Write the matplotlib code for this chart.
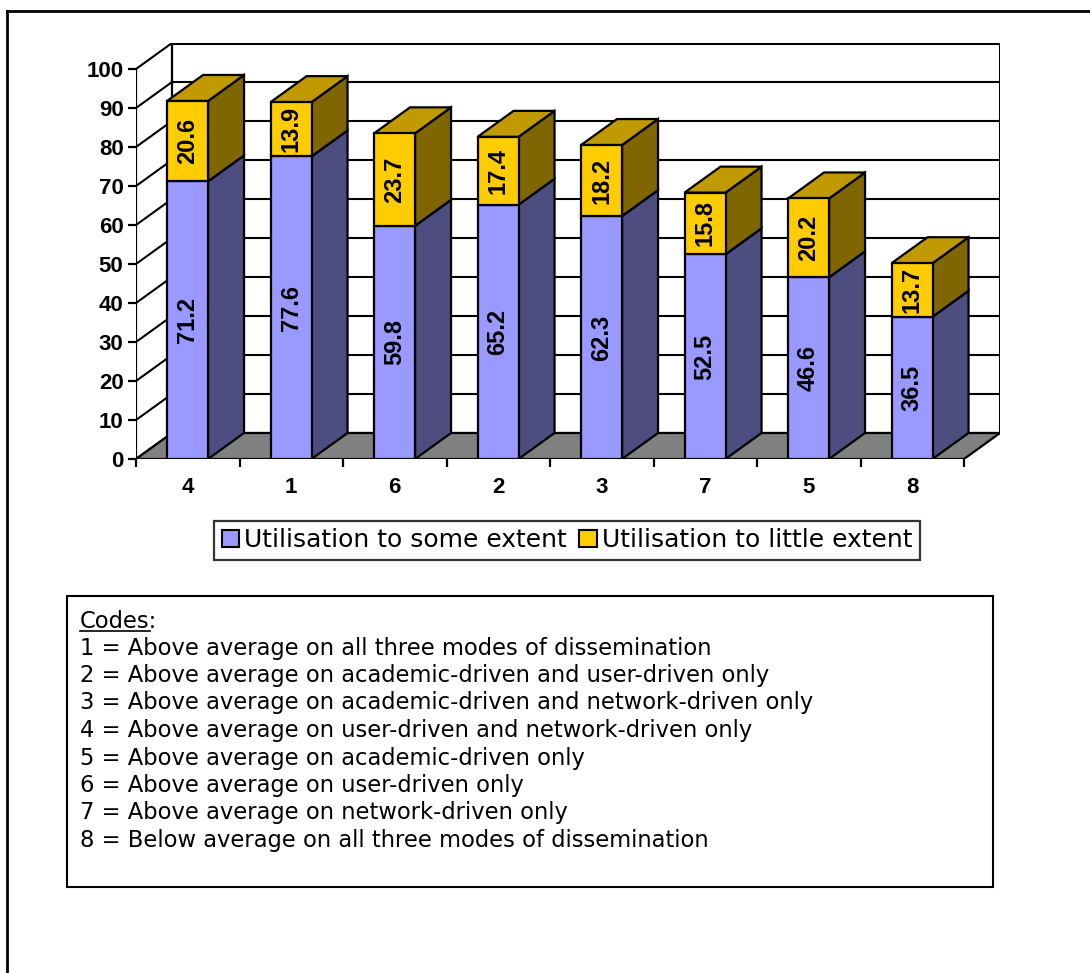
import numpy as np
import matplotlib
matplotlib.use("Agg")
import matplotlib.pyplot as plt
from matplotlib.patches import Polygon, Rectangle, Patch
from matplotlib.lines import Line2D

# data
cats = ['4', '1', '6', '2', '3', '7', '5', '8']
some_extent = [71.2, 77.6, 59.8, 65.2, 62.3, 52.5, 46.6, 36.5]
little_extent = [20.6, 13.9, 23.7, 17.4, 18.2, 15.8, 20.2, 13.7]
series_names = ['Utilisation to some extent', 'Utilisation to little extent']
yticks = list(range(0, 101, 10))
codes = [
    "1 = Above average on all three modes of dissemination",
    "2 = Above average on academic-driven and user-driven only",
    "3 = Above average on academic-driven and network-driven only",
    "4 = Above average on user-driven and network-driven only",
    "5 = Above average on academic-driven only",
    "6 = Above average on user-driven only",
    "7 = Above average on network-driven only",
    "8 = Below average on all three modes of dissemination",
]

W, H = 1090, 973
fig = plt.figure(figsize=(W / 100, H / 100), dpi=100)

# pixel frame of the pseudo-3d plot
x0, x1, y0, y100 = 136, 964, 459, 69
offx, offy = 36, 26
n = len(cats)
px_cat = (x1 - x0) / n
px_val = (y0 - y100) / 100
DX = offx / px_cat
DY = offy / px_val

ax = fig.add_axes([x0 / W, 1 - y0 / H, (x1 + offx - x0) / W, (y0 - (y100 - offy)) / H])
ax.set_xlim(0, n + DX)
ax.set_ylim(0, 100 + DY)
for s in ax.spines.values():
    s.set_visible(False)

LW = 1.6
BOLD = dict(fontweight='bold', family='Liberation Sans', fontstretch='normal')
blue_f, blue_s, blue_t = '#9999FF', '#4D4D80', '#7373BF'
yel_f, yel_s, yel_t = '#FFCC00', '#806600', '#C09A00'

# back wall and left wall
ax.add_patch(Polygon([(DX, DY), (n + DX, DY), (n + DX, 100 + DY), (DX, 100 + DY)],
                     closed=True, fc='white', ec='none', zorder=1))
for v in yticks:
    ax.plot([DX, n + DX], [v + DY, v + DY], color='black', lw=1.5, zorder=2)
    ax.plot([0, DX], [v, v + DY], color='black', lw=1.5, zorder=2)
ax.plot([DX, DX], [DY, 100 + DY], color='black', lw=LW, zorder=2)
ax.plot([n + DX, n + DX], [DY, 100 + DY], color='black', lw=2.2, zorder=2)
ax.plot([DX, n + DX], [100 + DY, 100 + DY], color='black', lw=2.2, zorder=2)

# floor
ax.add_patch(Polygon([(0, 0), (n, 0), (n + DX, DY), (DX, DY)], closed=True,
                     fc='#808080', ec='black', lw=LW, zorder=3))
ax.plot([0, 0], [0, 100], color='black', lw=LW, zorder=3)

# bars
bl, bw = 0.30, 0.396


def box(xl, b, h, cf, cs, ct):
    xr = xl + bw
    ax.add_patch(Polygon([(xr, b), (xr + DX, b + DY), (xr + DX, b + h + DY), (xr, b + h)],
                         closed=True, fc=cs, ec='black', lw=LW, zorder=4))
    ax.add_patch(Polygon([(xl, b + h), (xr, b + h), (xr + DX, b + h + DY), (xl + DX, b + h + DY)],
                         closed=True, fc=ct, ec='black', lw=LW, zorder=4))
    ax.add_patch(Rectangle((xl, b), bw, h, fc=cf, ec='black', lw=LW, zorder=5))


for i in range(n):
    xl = i + bl
    box(xl, 0, some_extent[i], blue_f, blue_s, blue_t)
    box(xl, some_extent[i], little_extent[i], yel_f, yel_s, yel_t)
    ax.text(xl + bw / 2, some_extent[i] / 2, f"{some_extent[i]:.1f}", rotation=90,
            ha='center', va='center', fontsize=17, zorder=6, **BOLD)
    ax.text(xl + bw / 2, some_extent[i] + little_extent[i] / 2, f"{little_extent[i]:.1f}",
            rotation=90, ha='center', va='center', fontsize=17, zorder=6, **BOLD)

# ticks
ax.set_yticks(yticks)
ax.set_yticklabels([str(v) for v in yticks], fontsize=16, **BOLD)
ax.tick_params(axis='y', direction='out', length=6, width=LW, pad=3)
ax.set_xticks(np.arange(n + 1))
ax.set_xticklabels([])
ax.set_xticks(np.arange(n) + 0.5, minor=True)
ax.set_xticklabels(cats, minor=True, fontsize=16, **BOLD)
ax.tick_params(axis='x', which='major', direction='out', length=6, width=LW)
ax.tick_params(axis='x', which='minor', length=0, pad=13)

# legend
handles = [Patch(fc=blue_f, ec='black', lw=1.5), Patch(fc=yel_f, ec='black', lw=1.5)]
leg = fig.legend(handles, series_names, loc='center', bbox_to_anchor=(567 / W, 1 - 540 / H),
                 ncol=2, frameon=True, fancybox=False, handlelength=0.7,
                 handleheight=0.7, handletextpad=0.2, columnspacing=0.5,
                 borderpad=0.3, borderaxespad=0, prop={'family': 'DejaVu Sans', 'size': 18})
leg.get_frame().set_edgecolor('black')
leg.get_frame().set_linewidth(1.6)

# codes box
fs = 16.3
fig.add_artist(Rectangle((67 / W, 1 - 887 / H), (993 - 67) / W, (887 - 596) / H,
                         transform=fig.transFigure, fc='white', ec='black', lw=1.5))
tx = 80 / W
fig.text(tx, 1 - 621 / H, "Codes:", fontsize=fs, va='center', family='DejaVu Sans')
fig.canvas.draw()
r = fig.canvas.get_renderer()
tc = fig.text(tx, 1 - 621 / H, "Codes", fontsize=fs, va='center', family='DejaVu Sans', alpha=0)
bb = tc.get_window_extent(r)
fig.add_artist(Line2D([bb.x0 / W, bb.x1 / W], [(bb.y0 + 2) / H, (bb.y0 + 2) / H],
                      transform=fig.transFigure, color='black', lw=1.2))
for k, line in enumerate(codes):
    fig.text(tx, 1 - (648 + 27.5 * k) / H, line, fontsize=fs, va='center', family='DejaVu Sans')

# outer frame
fig.add_artist(Line2D([7 / W, 1], [1 - 11 / H, 1 - 11 / H], transform=fig.transFigure,
                      color='black', lw=2))
fig.add_artist(Line2D([7 / W, 7 / W], [0, 1 - 11 / H], transform=fig.transFigure,
                      color='black', lw=2))

fig.savefig("out.png", dpi=100)
